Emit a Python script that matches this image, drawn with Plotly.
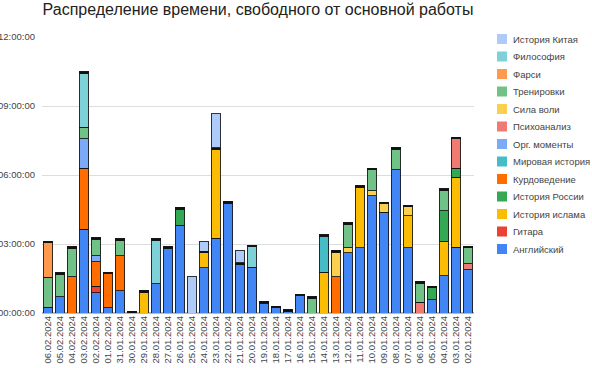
import plotly.graph_objects as go

dates = ["06.02.2024","05.02.2024","04.02.2024","03.02.2024","02.02.2024","01.02.2024","31.01.2024",
         "30.01.2024","29.01.2024","28.01.2024","27.01.2024","26.01.2024","25.01.2024","24.01.2024",
         "23.01.2024","22.01.2024","21.01.2024","20.01.2024","19.01.2024","18.01.2024","17.01.2024",
         "16.01.2024","15.01.2024","14.01.2024","13.01.2024","12.01.2024","11.01.2024","10.01.2024",
         "09.01.2024","08.01.2024","07.01.2024","06.01.2024","05.01.2024","04.01.2024","03.01.2024",
         "02.01.2024"]

# hours per activity, same order as dates
english   = [0.25,0.7,0,3.65,0.87,0.22,0.97,0,0,1.27,2.8,3.81,0,1.96,3.26,4.78,2.1,1.99,0.43,0.22,0.07,0.74,0,0,0,2.61,2.83,5.1,4.39,6.22,2.83,0,0.58,1.62,2.86,1.88]
guitar    = [0,0,0,0,0.29,0,0,0,0,0,0,0,0,0,0,0,0,0,0,0,0,0,0,0,0,0,0,0,0,0,0,0,0,0,0,0]
islam     = [0,0,0,0,0,0,0,0,0.9,0,0,0,0,0.65,3.84,0,0,0,0,0,0,0,0,1.78,0,0,2.63,0,0,0,1.4,0,0,1.47,3.05,0]
russia    = [0,0,0,0,0,0,0,0,0,0,0,0.71,0,0,0,0,0,0,0,0,0,0,0,0,0,0,0,0,0,0,0,0,0.51,1.36,0.39,0]
kurd      = [0,0,1.57,2.65,1.06,1.48,1.52,0,0,0,0,0,0,0,0,0,0,0,0,0,0,0,0,0,1.58,0,0,0,0,0,0,0,0,0,0,0]
world     = [0,0,0,0,0,0,0,0,0,0,0,0,0,0,0,0,0,0,0,0,0,0,0,1.54,0,0,0,0,0,0,0,0,0,0,0,0]
org       = [0,0,0,1.27,0.27,0,0,0,0,0,0,0,0,0,0,0,0,0,0,0,0,0,0,0,0,0,0,0,0,0,0,0,0,0,0,0]
psycho    = [0,0,0,0,0,0,0,0,0,0,0,0,0,0,0,0,0,0,0,0,0,0,0,0,0,0,0,0,0,0,0,0.46,0,0,1.27,0.26]
will      = [0,0,0,0,0,0,0,0,0,0,0,0,0,0,0,0,0,0,0,0,0,0,0,0,1.07,0.22,0,0.22,0.35,0,0.38,0,0,0,0,0]
training  = [1.3,0.97,1.23,0.5,0.71,0,0.65,0,0,0,0,0,0,0,0,0,0,0,0,0,0,0,0.62,0,0,1.01,0,0.9,0,0.91,0,0.84,0,0.88,0,0.69]
farsi     = [1.5,0,0,0,0,0,0,0,0,0,0,0,0,0,0,0,0,0,0,0,0,0,0,0,0,0,0,0,0,0,0,0,0,0,0,0]
philosophy= [0,0,0,2.33,0,0,0,0,0,1.87,0,0,0,0,0,0,0,0.88,0,0,0,0,0,0,0,0,0,0,0,0,0,0,0,0,0,0]
other     = [0.08]*12 + [0] + [0.08]*23
china     = [0,0,0,0,0,0,0,0,0,0,0,0,1.59,0.43,1.49,0,0.55,0,0,0,0,0,0,0,0,0,0,0,0,0,0,0,0,0,0,0]

y_tickvals = [0, 3, 6, 9, 12]
y_ticktext = ["00:00:00", "03:00:00", "06:00:00", "09:00:00", "12:00:00"]

series = [
    ("Английский", english, "#4285f4", True),
    ("Гитара", guitar, "#ea4335", True),
    ("История ислама", islam, "#fbbc04", True),
    ("История России", russia, "#34a853", True),
    ("Курдоведение", kurd, "#ff6d01", True),
    ("Мировая история", world, "#46bdc6", True),
    ("Орг. моменты", org, "#7baaf7", True),
    ("Психоанализ", psycho, "#f07b72", True),
    ("Сила воли", will, "#fcd04f", True),
    ("Тренировки", training, "#71c287", True),
    ("Фарси", farsi, "#ff994d", True),
    ("Философия", philosophy, "#7ed1d7", True),
    ("", other, "#111111", False),
    ("История Китая", china, "#aecbfa", True),
]

W, H = 592, 368
ML, MR, MT, MB = 42, 118, 37, 55
PW, PH = W - ML - MR, H - MT - MB

fig = go.Figure()
for name, vals, color, show in series:
    fig.add_trace(go.Bar(
        x=dates, y=vals, name=name if name else "прочее", showlegend=False,
        marker=dict(color=color, line=dict(color="rgba(20,20,20,0.85)", width=1)),
    ))

# legend drawn as swatches + text, top entry = last series (reversed order)
legend_items = [(n, c) for n, v, c, s in series if s][::-1]
shapes, annotations = [], []
for i, (name, color) in enumerate(legend_items):
    cy = 39 + i * 17.5
    shapes.append(dict(type="rect", xref="paper", yref="paper",
                       x0=(497 - ML) / PW, x1=(507 - ML) / PW,
                       y0=(H - MB - (cy + 5)) / PH, y1=(H - MB - (cy - 5)) / PH,
                       fillcolor=color, line=dict(width=0)))
    annotations.append(dict(text=name, xref="paper", yref="paper",
                            x=(511 - ML) / PW, y=(H - MB - cy) / PH,
                            xanchor="left", yanchor="middle", showarrow=False,
                            font=dict(size=9.5, color="#444444")))

fig.update_layout(
    width=W, height=H,
    barmode="stack", bargap=0.2,
    plot_bgcolor="white", paper_bgcolor="white",
    margin=dict(l=ML, r=MR, t=MT, b=MB, autoexpand=False),
    font=dict(family="Liberation Sans, Arial, sans-serif", color="#444444", size=10),
    title=dict(text="Распределение времени, свободного от основной работы",
               x=0.5, xref="paper", xanchor="center", y=0.99, yref="container", yanchor="top",
               font=dict(size=16, color="#222222")),
    showlegend=False,
    shapes=shapes, annotations=annotations,
)
fig.update_xaxes(type="category", tickangle=-90, showgrid=False, ticks="",
                 tickmode="array", tickvals=dates, ticktext=dates, automargin=False,
                 tickfont=dict(size=9.5, color="#444444"), showline=False)
fig.update_yaxes(range=[0, 12], tickvals=y_tickvals, ticktext=y_ticktext,
                 showgrid=True, gridcolor="#dddddd", zeroline=True, zerolinecolor="#bbbbbb",
                 automargin=False, ticklabelstandoff=6, tickfont=dict(size=9.5, color="#444444"))

fig.write_html("out.html", config={"displayModeBar": False},
               post_script="document.body.style.margin='0';")
